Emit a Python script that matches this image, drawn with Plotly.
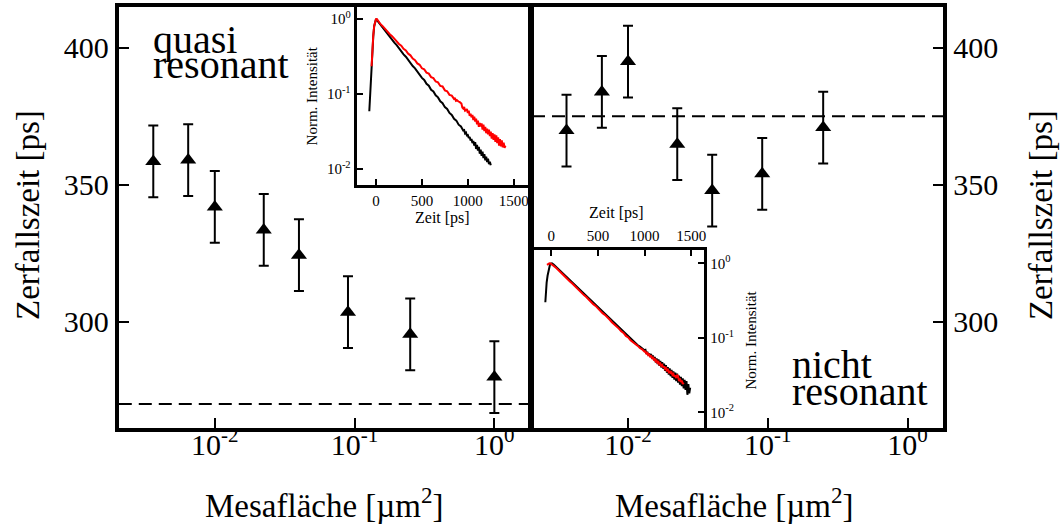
import plotly.graph_objects as go

W, H = 1064, 530
FONT = "Liberation Serif"

# ---------------- main data ----------------
area_q = [0.00363, 0.00645, 0.0100, 0.0224, 0.0400, 0.0897, 0.250, 1.00]
tau_q = [358.5, 359.0, 341.9, 333.5, 324.3, 303.5, 295.4, 279.8]
err_q = [13.1, 13.1, 13.1, 13.1, 13.1, 13.1, 13.1, 13.1]
ref_q = 270.0

area_n = [0.00363, 0.0065, 0.0100, 0.0225, 0.0400, 0.0912, 0.249]
tau_n = [369.8, 383.9, 395.0, 364.8, 347.9, 354.0, 370.9]
err_n = [13.1, 13.1, 13.1, 13.1, 13.1, 13.1, 13.1]
ref_n = 375.0

x_tickvals = [0.01, 0.1, 1]
x_ticktext = ["10<sup>-2</sup>", "10<sup>-1</sup>", "10<sup>0</sup>"]
y_tickvals = [300, 350, 400]

# ---------------- inset: quasi resonant ----------------
tq_black = [-73, -65, -55, -48, -40, -30, -20, -10, 0,
            25, 50, 75, 100, 125, 150, 175, 200, 225, 250, 275, 300, 325, 350, 375, 400,
            425, 450, 475, 500, 525, 550, 575, 600, 625, 650, 675, 700, 725, 750, 775, 800,
            825, 850, 875, 900, 925, 950,
            960, 970, 980, 990, 1000, 1010, 1020, 1030, 1040, 1050, 1060, 1070, 1080, 1090,
            1100, 1110, 1120, 1130, 1140, 1150, 1160, 1170, 1180, 1190, 1200, 1210, 1220,
            1230, 1240, 1250]
iq_black = [0.059, 0.10, 0.17, 0.245, 0.38, 0.58, 0.80, 0.94, 1.0,
            0.915, 0.832, 0.768, 0.695, 0.642, 0.580, 0.537, 0.485, 0.449, 0.405, 0.376, 0.338,
            0.314, 0.283, 0.263, 0.236, 0.220, 0.197, 0.184, 0.164, 0.154, 0.137, 0.129, 0.114,
            0.108, 0.0960, 0.0902, 0.0800, 0.0755, 0.0668, 0.0632, 0.0560, 0.0527, 0.0468,
            0.0442, 0.0390, 0.0370, 0.0327,
            0.0330, 0.0298, 0.0306, 0.0280, 0.0283, 0.0259, 0.0268, 0.0240, 0.0251, 0.0222,
            0.0236, 0.0205, 0.0228, 0.0185, 0.0210, 0.0176, 0.0198, 0.0160, 0.0181, 0.0150,
            0.0170, 0.0140, 0.0158, 0.0131, 0.0146, 0.0124, 0.0137, 0.0116, 0.0125, 0.0112]

tq_red = [-48, -40, -30, -20, -10, 0, 10,
          25, 50, 75, 100, 125, 150, 175, 200, 225, 250, 275, 300, 325, 350, 375, 400,
          425, 450, 475, 500, 525, 550, 575, 600, 625, 650, 675, 700, 725, 750, 775, 800,
          825, 850,
          860, 870, 880, 890, 900, 910, 920, 930, 940, 950, 960, 970, 980, 990, 1000,
          1010, 1020, 1030, 1040, 1050, 1060, 1070, 1080, 1090, 1100, 1110, 1120, 1130,
          1140, 1150, 1160, 1170, 1180, 1190, 1200, 1210, 1220, 1230, 1240, 1250, 1260,
          1270, 1280, 1290, 1300, 1310, 1320, 1330, 1340, 1350, 1360, 1370, 1380, 1390,
          1400, 1410]
iq_red = [0.235, 0.40, 0.60, 0.80, 0.94, 0.995, 1.0,
          0.928, 0.852, 0.796, 0.730, 0.684, 0.627, 0.590, 0.540, 0.510, 0.465, 0.440, 0.401,
          0.380, 0.345, 0.328, 0.297, 0.283, 0.256, 0.245, 0.220, 0.213, 0.193, 0.187, 0.168,
          0.163, 0.147, 0.143, 0.128, 0.126, 0.112, 0.109, 0.0975, 0.0950, 0.0860,
          0.0870, 0.0815, 0.0830, 0.0800, 0.0790, 0.0785, 0.0760, 0.0745, 0.0660, 0.0640,
          0.0670, 0.0600, 0.0610, 0.0630, 0.0560, 0.0600, 0.0510, 0.0545, 0.0490, 0.0525,
          0.0450, 0.0500, 0.0430, 0.0470, 0.0395, 0.0440, 0.0365, 0.0410, 0.0370, 0.0405,
          0.0335, 0.0390, 0.0320, 0.0365, 0.0300, 0.0345, 0.0290, 0.0335, 0.0275, 0.0315,
          0.0255, 0.0300, 0.0245, 0.0290, 0.0230, 0.0280, 0.0222, 0.0265, 0.0205, 0.0250,
          0.0200, 0.0240, 0.0195, 0.0225, 0.0192, 0.0205]

# ---------------- inset: nicht resonant ----------------
tn_black = [-64, -58, -50, -40, -28, -15, -5, 7,
            25, 50, 75, 100, 125, 150, 175, 200, 225, 250, 275, 300, 325, 350, 375, 400,
            425, 450, 475, 500, 525, 550, 575, 600, 625, 650, 675, 700, 725, 750, 775, 800,
            825, 850, 875, 900, 925, 950, 975, 1000,
            1010, 1020, 1030, 1040, 1050, 1060, 1070, 1080, 1090, 1100, 1110, 1120, 1130,
            1140, 1150, 1160, 1170, 1180, 1190, 1200, 1210, 1220, 1230, 1240, 1250, 1260,
            1270, 1280, 1290, 1300, 1310, 1320, 1330, 1340, 1350, 1360, 1370, 1380, 1390,
            1400, 1410, 1420, 1430, 1440, 1450, 1460, 1470, 1480, 1490]
in_black = [0.30, 0.42, 0.55, 0.68, 0.86, 0.95, 0.99, 1.0,
            0.965, 0.900, 0.838, 0.782, 0.728, 0.680, 0.632, 0.592, 0.550, 0.515, 0.478, 0.448,
            0.416, 0.389, 0.362, 0.338, 0.314, 0.295, 0.274, 0.257, 0.238, 0.223, 0.207, 0.194,
            0.180, 0.169, 0.156, 0.147, 0.136, 0.128, 0.118, 0.111, 0.103, 0.0967, 0.0900,
            0.0858, 0.0800, 0.0765, 0.0712, 0.0682,
            0.0690, 0.0612, 0.0650, 0.0585, 0.0622, 0.0560, 0.0605, 0.0528, 0.0580, 0.0505,
            0.0556, 0.0470, 0.0530, 0.0445, 0.0512, 0.0420, 0.0490, 0.0400, 0.0470, 0.0385,
            0.0452, 0.0360, 0.0430, 0.0340, 0.0405, 0.0320, 0.0390, 0.0305, 0.0372, 0.0290,
            0.0355, 0.0275, 0.0340, 0.0262, 0.0330, 0.0250, 0.0312, 0.0235, 0.0300, 0.0225,
            0.0285, 0.0210, 0.0272, 0.0200, 0.0262, 0.0172, 0.0240, 0.0180, 0.0215]

tn_red = [-46, -35, -20, -8,
          25, 50, 75, 100, 125, 150, 175, 200, 225, 250, 275, 300, 325, 350, 375, 400,
          425, 450, 475, 500, 525, 550, 575, 600, 625, 650, 675, 700, 725, 750, 775, 800,
          825, 850, 875, 900, 925, 950, 975, 1000,
          1010, 1020, 1030, 1040, 1050, 1060, 1070, 1080, 1090, 1100, 1110, 1120, 1130,
          1140, 1150, 1160, 1170, 1180, 1190, 1200, 1210, 1220, 1230, 1240, 1250, 1260,
          1270, 1280, 1290, 1300, 1310, 1320, 1330, 1340, 1350, 1360, 1370, 1380, 1390,
          1400, 1410, 1420]
in_red = [0.95, 0.98, 1.0, 0.995,
          0.935, 0.868, 0.813, 0.754, 0.708, 0.656, 0.616, 0.570, 0.536, 0.496, 0.466, 0.431,
          0.406, 0.374, 0.353, 0.325, 0.307, 0.283, 0.268, 0.246, 0.233, 0.214, 0.203, 0.186,
          0.176, 0.162, 0.153, 0.141, 0.133, 0.122, 0.116, 0.106, 0.101, 0.0925, 0.0880,
          0.0820, 0.0785, 0.0730, 0.0700, 0.0650,
          0.0655, 0.0615, 0.0625, 0.0585, 0.0598, 0.0560, 0.0570, 0.0535, 0.0545, 0.0508,
          0.0520, 0.0482, 0.0495, 0.0462, 0.0475, 0.0440, 0.0452, 0.0420, 0.0432, 0.0400,
          0.0415, 0.0382, 0.0395, 0.0365, 0.0375, 0.0348, 0.0360, 0.0330, 0.0342, 0.0318,
          0.0328, 0.0300, 0.0315, 0.0288, 0.0320, 0.0305, 0.0262, 0.0285, 0.0255, 0.0268,
          0.0240, 0.0250]

inset_ytickvals = [0.01, 0.1, 1]
inset_yticktext = ["10<sup>-2</sup>", "10<sup>-1</sup>", "10<sup>0</sup>"]


def fx(p):
    return p / W


def fy(p):
    return 1 - p / H


fig = go.Figure()

marker = dict(symbol="triangle-up", size=14, color="black")


def ebar(e):
    return dict(type="data", array=e, visible=True, thickness=2, width=5, color="black")


fig.add_trace(go.Scatter(x=area_q, y=tau_q, mode="markers", marker=marker,
                         error_y=ebar(err_q), xaxis="x", yaxis="y", showlegend=False))
fig.add_trace(go.Scatter(x=area_n, y=tau_n, mode="markers", marker=marker,
                         error_y=ebar(err_n), xaxis="x2", yaxis="y2", showlegend=False))

fig.add_trace(go.Scatter(x=tq_black, y=iq_black, mode="lines", line=dict(color="black", width=2),
                         xaxis="x3", yaxis="y3", showlegend=False))
fig.add_trace(go.Scatter(x=tq_red, y=iq_red, mode="lines", line=dict(color="red", width=2),
                         xaxis="x3", yaxis="y3", showlegend=False))
fig.add_trace(go.Scatter(x=tn_black, y=in_black, mode="lines", line=dict(color="black", width=2),
                         xaxis="x4", yaxis="y4", showlegend=False))
fig.add_trace(go.Scatter(x=tn_red, y=in_red, mode="lines", line=dict(color="red", width=2),
                         xaxis="x4", yaxis="y4", showlegend=False))


def mainx(domain, anchor):
    return dict(type="log", range=[-2.687, 0.255], tickmode="array", tickvals=x_tickvals,
                ticktext=x_ticktext, ticks="inside", ticklen=10, tickwidth=2, tickcolor="black",
                showline=True, linewidth=4, linecolor="black", mirror=True, showgrid=False,
                zeroline=False, ticklabelstandoff=-13,
                tickfont=dict(family=FONT, size=30, color="black"),
                domain=domain, anchor=anchor)


def mainy(domain, anchor, side):
    return dict(range=[261.2, 414.9], tickmode="array", tickvals=y_tickvals,
                ticks="inside", ticklen=10, tickwidth=2, tickcolor="black",
                showline=True, linewidth=4, linecolor="black", mirror=True, showgrid=False,
                zeroline=False, tickfont=dict(family=FONT, size=30, color="black"),
                domain=domain, anchor=anchor, side=side)


def insx(domain, anchor, side, rng):
    return dict(range=rng, dtick=500, tick0=0, ticks="inside", ticklen=6, tickwidth=1.5,
                tickcolor="black",
                showline=True, linewidth=3, linecolor="black", mirror=False, showgrid=False,
                zeroline=False, tickfont=dict(family=FONT, size=15, color="black"),
                domain=domain, anchor=anchor, side=side)


def insy(domain, anchor, side, rng):
    return dict(type="log", range=rng, tickmode="array", tickvals=inset_ytickvals,
                ticktext=inset_yticktext, ticks="inside", ticklen=6, tickwidth=1.5,
                tickcolor="black",
                showline=True, linewidth=3, linecolor="black", mirror=False, showgrid=False,
                zeroline=False, tickfont=dict(family=FONT, size=15, color="black"),
                domain=domain, anchor=anchor, side=side)


fig.update_layout(
    width=W, height=H, margin=dict(l=0, r=0, t=0, b=0),
    paper_bgcolor="white", plot_bgcolor="rgba(0,0,0,0)",
    font=dict(family=FONT, color="black"),
    xaxis=mainx([fx(119), fx(531)], "y"),
    yaxis=mainy([fy(428), fy(7)], "x", "left"),
    xaxis2=mainx([fx(533), fx(945)], "y2"),
    yaxis2=mainy([fy(428), fy(7)], "x2", "right"),
    xaxis3=insx([fx(357.3), fx(531)], "y3", "bottom", [-211, 1677]),
    yaxis3=insy([fy(185), fy(7)], "x3", "left", [-2.213, 0.16]),
    xaxis4=insx([fx(533), fx(705.7)], "y4", "top", [-207, 1642]),
    yaxis4=insy([fy(428), fy(250)], "x4", "right", [-2.21, 0.178]),
)

dash = "13px,7px"
fig.add_shape(type="line", xref="x domain", yref="y", x0=0, x1=1, y0=ref_q, y1=ref_q,
              line=dict(color="black", width=2, dash=dash))
fig.add_shape(type="line", xref="x2 domain", yref="y2", x0=0, x1=1, y0=ref_n, y1=ref_n,
              line=dict(color="black", width=2, dash=dash))


def ann(text, x, y, size, xanchor="center", yanchor="middle", angle=0):
    fig.add_annotation(text=text, x=fx(x), y=fy(y), xref="paper", yref="paper",
                       xanchor=xanchor, yanchor=yanchor, textangle=angle, showarrow=False,
                       font=dict(family=FONT, size=size, color="black"))


ann("quasi", 151, 40, 40, xanchor="left")
ann("resonant", 151, 65, 40, xanchor="left")
ann("nicht", 791, 364, 40, xanchor="left")
ann("resonant", 791, 391, 40, xanchor="left")

ann("Zerfallszeit [ps]", 28, 215, 33, angle=-90)
ann("Zerfallszeit [ps]", 1043, 215, 33, angle=-90)
ann("Mesafläche [µm<sup>2</sup>]", 325, 503, 33)
ann("Mesafläche [µm<sup>2</sup>]", 736, 503, 33)

ann("Zeit [ps]", 443, 218, 16)
ann("Norm. Intensität", 313, 96, 15, angle=-90)
ann("Zeit [ps]", 618, 213, 16)
ann("Norm. Intensität", 752, 340, 15, angle=-90)

fig.write_html("out.html")
